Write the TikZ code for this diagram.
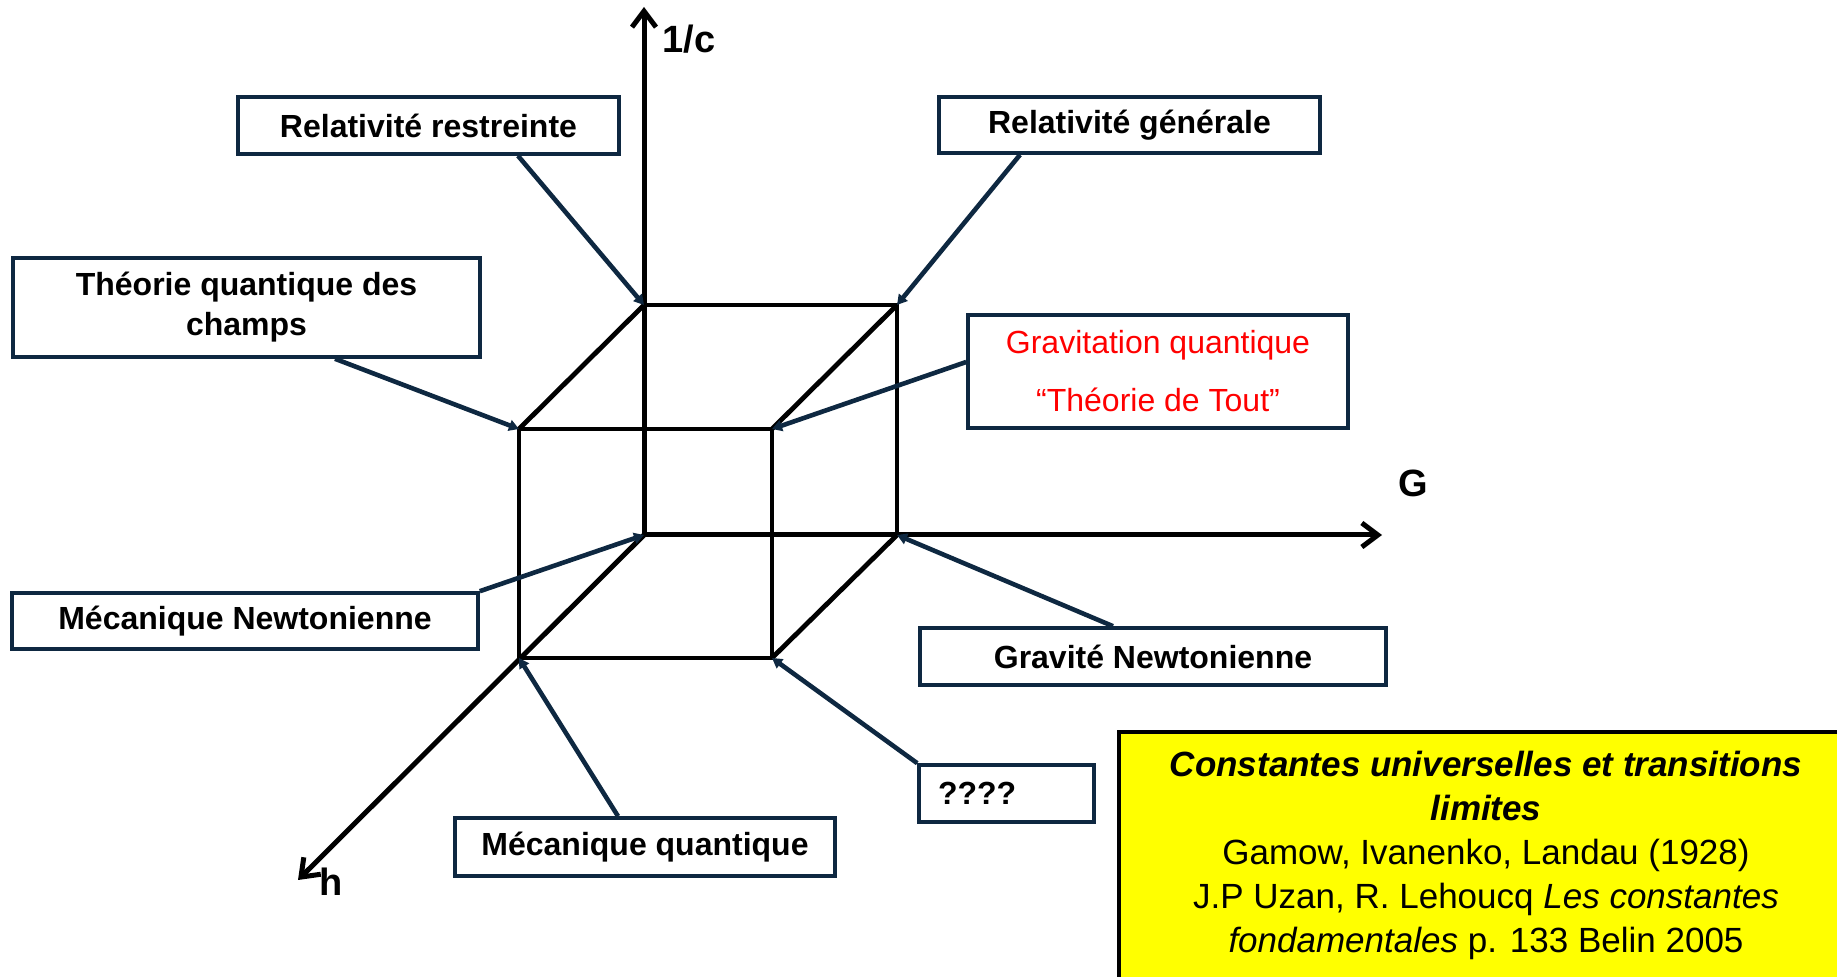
\documentclass[tikz,border=0pt]{standalone}
\usepackage{fontspec}
\setmainfont{Liberation Sans}
\usetikzlibrary{arrows.meta,calc}
\definecolor{navy}{HTML}{0E2841}
\definecolor{ylw}{HTML}{FFFF00}
\begin{document}
\begin{tikzpicture}[x=0.5pt,y=-0.5pt,
  box/.style={draw=navy, line width=1.8pt, fill=white, inner sep=0pt, align=center,
    font=\bfseries\fontsize{16}{20}\selectfont},
  conn/.style={draw=navy, line width=2.3pt, -{Triangle[length=5pt,width=5.5pt]}},
  axis/.style={line width=2.5pt, -{Straight Barb[length=8pt,width=12pt]}},
  cube/.style={line width=2.4pt, line join=miter},
  axlabel/.style={font=\bfseries\fontsize{19}{22}\selectfont, inner sep=0pt},
  reftext/.style={align=center, inner sep=0pt, font=\fontsize{17.5}{22}\selectfont}
]
\useasboundingbox (0,0) rectangle (1837,977);

% cube corners
\coordinate (B00) at (644,535);
\coordinate (B10) at (897,535);
\coordinate (B01) at (644,305);
\coordinate (B11) at (897,305);
\coordinate (F00) at (519,658);
\coordinate (F10) at (772,658);
\coordinate (F01) at (519,429);
\coordinate (F11) at (772,429);
\coordinate (tipc) at (644,7);
\coordinate (tipG) at (1382,535);
\coordinate (tiph) at (298,880);

% axes
\draw[axis] (B00) -- (tipc);
\draw[axis] (B00) -- (tipG);
\draw[axis] (B00) -- (tiph);

% cube
\draw[cube] (B00) -- (B10) -- (B11) -- (B01) -- cycle;
\draw[cube] (F00) -- (F10) -- (F11) -- (F01) -- cycle;
\draw[cube] (B10) -- (F10);
\draw[cube] (B11) -- (F11);
\draw[cube] (B01) -- (F01);

% axis labels
\node[axlabel] (lc) at (689,39) {1/c};
\node[axlabel] (lG) at (1413,483) {G};
\node[axlabel] (lh) at (331,882) {h};

% boxes
\node[box, minimum width=190.5pt, minimum height=28.5pt] (rr) at (428.5,125.5) {Relativité restreinte};
\node[box, minimum width=190.5pt, minimum height=28pt] (rg) at (1129.5,125) {Relativité générale};
\node[box, minimum width=233.5pt, minimum height=49.5pt] (tqc) at (246.5,307.5) {Théorie quantique des\\champs};
\node[box, minimum width=190pt, minimum height=56.5pt, text=red,
  font=\fontsize{16}{29}\selectfont] (gq) at (1158,371.5) {Gravitation quantique\\“Théorie de Tout”};
\node[box, minimum width=233pt, minimum height=28pt] (mn) at (245,621) {Mécanique Newtonienne};
\node[box, minimum width=233pt, minimum height=28.5pt] (gn) at (1153,656.5) {Gravité Newtonienne};
\node[box, minimum height=28.5pt, inner xsep=9.5pt, text width=68.5pt, align=left] (qq) at (1006.5,793.5) {????};
\node[box, minimum width=190pt, minimum height=29pt] (mq) at (645,847) {Mécanique quantique};

% connectors
\draw[conn] ($(rr.south)+(89.5,0)$) -- (B01);
\draw[conn] ($(rg.south)+(-109.5,0)$) -- (B11);
\draw[conn] ($(tqc.south)+(88.5,0)$) -- (F01);
\draw[conn] ($(gq.west)+(0,-9.5)$) -- (F11);
\draw[conn] (mn.north east) -- (B00);
\draw[conn] ($(gn.north)+(-40,0)$) -- (B10);
\draw[conn] (qq.north west) -- (F10);
\draw[conn] ($(mq.north)+(-27,0)$) -- (F00);

% reference box
\draw[fill=ylw, line width=2pt] (1119,732) rectangle (1870,1010);
\node[reftext] (ref) at (1486,855) {{\bfseries\itshape Constantes universelles et transitions}\\
{\bfseries\itshape limites}\\
Gamow, Ivanenko, Landau (1928)\\
J.P Uzan, R. Lehoucq \textit{Les constantes}\\
\textit{fondamentales} p. 133 Belin 2005};
\end{tikzpicture}
\end{document}
